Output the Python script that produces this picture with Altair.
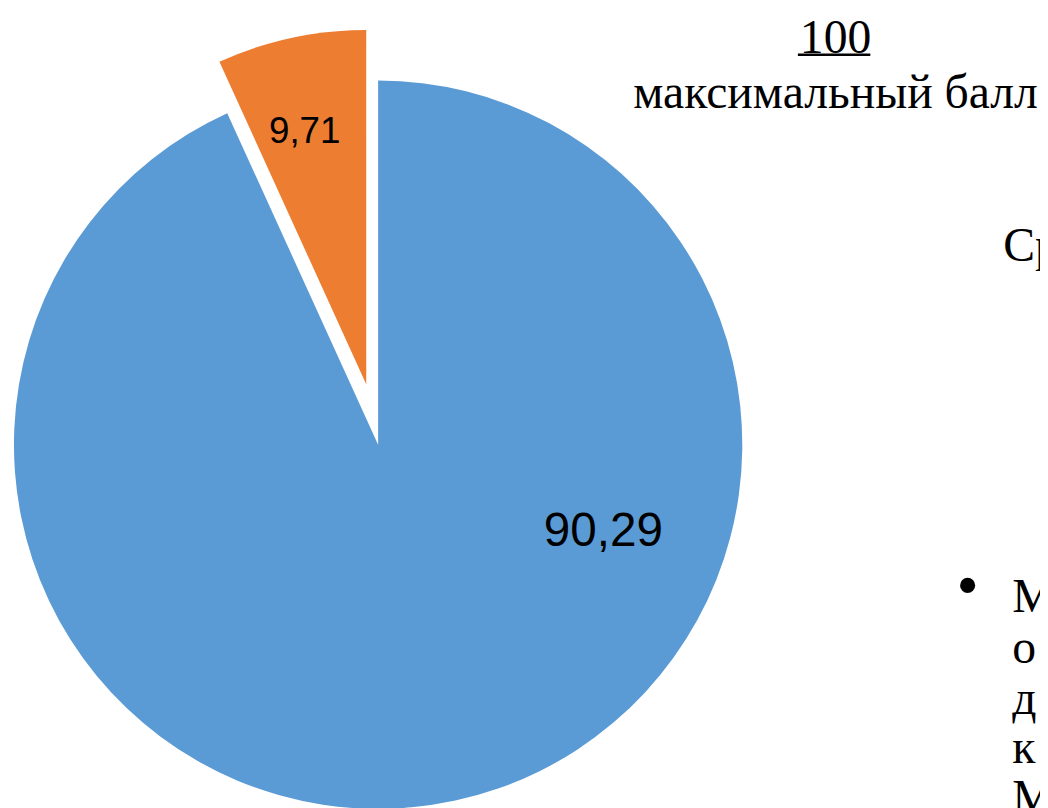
import altair as alt
import pandas as pd

categories = ["main", "other"]
# slice sizes as drawn in the picture (angles measured), labels as printed
shares = [93.2, 6.8]
labels = ["90,29", "9,71"]
colors = ["#5B9BD5", "#ED7D31"]

df = pd.DataFrame({"cat": categories, "value": shares, "label": labels, "idx": [0, 1]})

color_scale = alt.Scale(domain=categories, range=colors)


def slice_layer(cat, cx, cy, r):
    return (
        alt.Chart(df)
        .mark_arc(outerRadius=r)
        .encode(
            theta=alt.Theta("value:Q", stack=True),
            order=alt.Order("idx:Q"),
            color=alt.Color("cat:N", scale=color_scale, legend=None),
            opacity=alt.condition(alt.datum.cat == cat, alt.value(1), alt.value(0)),
            x=alt.value(cx),
            y=alt.value(cy),
        )
    )


blue = slice_layer("main", 373, 437, 367)
orange = slice_layer("other", 361, 376, 357)

lab_main = (
    alt.Chart(df)
    .transform_filter(alt.datum.cat == "main")
    .mark_text(font="Liberation Sans", fontSize=48, color="black")
    .encode(text="label:N", x=alt.value(600), y=alt.value(525))
)
lab_other = (
    alt.Chart(df)
    .transform_filter(alt.datum.cat == "other")
    .mark_text(font="Liberation Sans", fontSize=37, color="black")
    .encode(text="label:N", x=alt.value(299), y=alt.value(122))
)

ann_texts = ["100", "максимальный балл", "Ср", "М", "о", "д", "к", "М"]
ann_x = [834, 834, 1003, 1012, 1012, 1012, 1012, 1012]
ann_y = [28, 84, 238, 592, 643, 694, 744, 794]
ann_align = ["center", "center", "left", "left", "left", "left", "left", "left"]
ann = pd.DataFrame({"t": ann_texts, "x": ann_x, "y": ann_y, "align": ann_align})

center_txt = (
    alt.Chart(ann[ann["align"] == "center"])
    .mark_text(font="Liberation Serif", fontSize=48, color="black", baseline="middle", align="center")
    .encode(text="t:N", x=alt.X("x:Q", scale=None), y=alt.Y("y:Q", scale=None))
)
left_txt = (
    alt.Chart(ann[ann["align"] == "left"])
    .mark_text(font="Liberation Serif", fontSize=48, color="black", baseline="middle", align="left")
    .encode(text="t:N", x=alt.X("x:Q", scale=None), y=alt.Y("y:Q", scale=None))
)

bullet = (
    alt.Chart(pd.DataFrame({"t": ["•"]}))
    .mark_text(font="Liberation Serif", fontSize=64, color="black", baseline="middle", align="center")
    .encode(text="t:N", x=alt.value(967), y=alt.value(581))
)

underline = alt.Chart(pd.DataFrame({"a": [0]})).mark_rule(color="black", strokeWidth=2.5).encode(
    x=alt.value(796), x2=alt.value(869), y=alt.value(44)
)

chart = (
    alt.layer(blue, orange, lab_main, lab_other, center_txt, left_txt, bullet, underline)
    .resolve_scale(opacity="independent")
    .properties(width=1040, height=800, padding=0, autosize=alt.AutoSizeParams(type="none"))
    .configure_view(stroke=None)
)

chart.save("out.html", embed_options={"renderer": "svg", "actions": False})
